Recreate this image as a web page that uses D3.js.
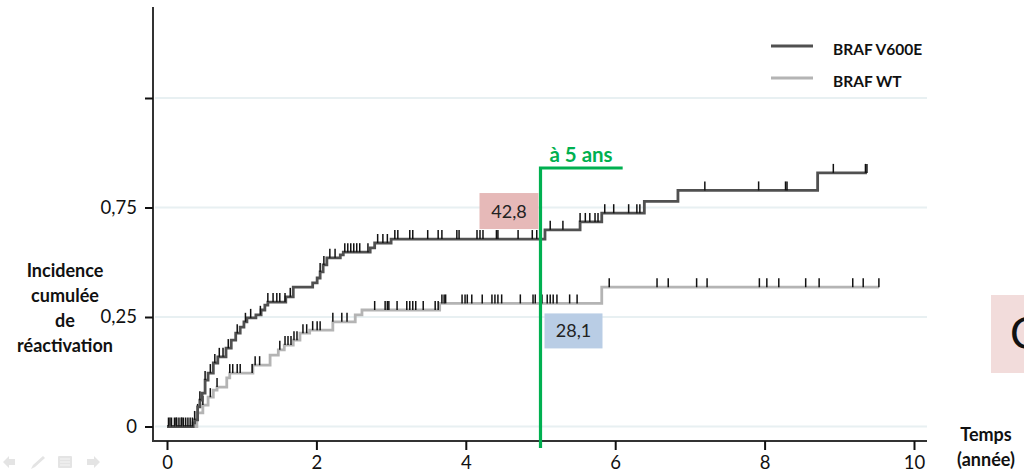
<!DOCTYPE html>
<html>
<head>
<meta charset="utf-8">
<script src="https://cdn.jsdelivr.net/npm/d3@7"></script>
<style>
  html, body { margin: 0; padding: 0; background: #fff; }
  svg { display: block; font-family: Lato, "Open Sans", sans-serif; }
</style>
</head>
<body>
<svg id="chart" width="1024" height="475"></svg>
<script>
// Cumulative incidence of reactivation: step times (years) and value after each step
const v600eTimes  = [0.35, 0.37, 0.41, 0.44, 0.47, 0.51, 0.55, 0.62, 0.68, 0.79, 0.86, 0.92, 0.98, 1.03, 1.07, 1.19, 1.26, 1.31, 1.35, 1.59, 1.69, 1.95, 2.01, 2.05, 2.09, 2.14, 2.32, 2.36, 2.72, 2.78, 3.00, 5.06, 5.53, 5.82, 6.39, 6.84, 8.71];
const v600eValues = [0.008, 0.015, 0.045, 0.060, 0.076, 0.106, 0.122, 0.145, 0.159, 0.179, 0.197, 0.213, 0.227, 0.239, 0.248, 0.255, 0.266, 0.277, 0.284, 0.296, 0.318, 0.328, 0.339, 0.353, 0.369, 0.385, 0.392, 0.398, 0.408, 0.419, 0.428, 0.449, 0.467, 0.487, 0.514, 0.539, 0.579];
const v600eEnd = 9.37;

const wtTimes  = [0.40, 0.48, 0.55, 0.62, 0.67, 0.80, 0.84, 1.15, 1.38, 1.49, 1.57, 1.69, 1.78, 1.91, 2.22, 2.52, 2.61, 3.65, 5.82];
const wtValues = [0.031, 0.049, 0.067, 0.083, 0.090, 0.111, 0.122, 0.140, 0.163, 0.175, 0.186, 0.197, 0.213, 0.220, 0.239, 0.255, 0.266, 0.281, 0.318];
const wtEnd = 9.53;

// Censoring times (years)
const v600eCensored = [0.02, 0.06, 0.10, 0.13, 0.16, 0.19, 0.22, 0.25, 0.28, 0.31, 0.34, 0.37, 0.44, 0.51, 0.58, 0.64, 0.70, 0.75, 0.82, 0.94, 1.05, 1.12, 1.25, 1.35, 1.42, 1.47, 1.51, 1.58, 1.65, 2.05, 2.10, 2.18, 2.25, 2.38, 2.42, 2.46, 2.50, 2.54, 2.58, 2.69, 2.82, 2.89, 2.95, 3.05, 3.09, 3.25, 3.29, 3.49, 3.63, 3.68, 3.88, 3.91, 4.15, 4.19, 4.23, 4.41, 4.43, 4.70, 4.89, 4.95, 5.13, 5.30, 5.53, 5.60, 5.66, 5.73, 5.77, 5.86, 5.98, 6.18, 6.29, 6.33, 7.20, 7.92, 8.28, 8.30, 8.92, 9.35, 9.37];
const wtCensored = [0.04, 0.12, 0.20, 0.41, 0.48, 0.58, 0.67, 0.84, 0.88, 0.94, 0.98, 1.14, 1.18, 1.24, 1.51, 1.58, 1.62, 1.66, 1.70, 1.74, 1.82, 1.87, 1.95, 2.01, 2.05, 2.22, 2.34, 2.41, 2.78, 2.92, 2.95, 2.97, 3.08, 3.21, 3.25, 3.29, 3.33, 3.43, 3.59, 3.63, 3.68, 3.71, 3.73, 3.95, 3.99, 4.02, 4.08, 4.22, 4.35, 4.39, 4.43, 4.48, 4.73, 4.90, 4.93, 5.02, 5.09, 5.13, 5.17, 5.22, 5.39, 5.49, 5.92, 6.56, 6.71, 7.09, 7.23, 7.93, 8.03, 8.19, 8.55, 8.73, 9.18, 9.32, 9.53];

const xTicks = [0, 2, 4, 6, 8, 10];
const yTicks = [0, 0.25, 0.5, 0.75];
const yTickLabels = ["0", "0,25", "0,75", ""];
const seriesNames = ["BRAF V600E", "BRAF WT"];
const seriesColors = ["#505050", "#b4b4b4"];
const milestoneYear = 5;
const milestoneText = "à 5 ans";
const milestonePercents = [42.8, 28.1];
const yTitle = ["Incidence", "cumulée", "de", "réactivation"];
const xTitle = ["Temps", "(année)"];

const svg = d3.select("#chart");

const x = d3.scaleLinear().domain([0, 10]).range([167, 914]);
const y = d3.scaleLinear().domain([0, 0.75]).range([426.5, 98]);

const axisX0 = 153, axisY0 = 441;

// gridlines
svg.append("g").selectAll("line").data(yTicks).join("line")
  .attr("x1", axisX0 + 2).attr("x2", 927)
  .attr("y1", d => y(d)).attr("y2", d => y(d))
  .attr("stroke", "#e8f0f2").attr("stroke-width", 2);

// axis lines
svg.append("line").attr("x1", axisX0).attr("x2", axisX0).attr("y1", 7).attr("y2", axisY0)
  .attr("stroke", "#333").attr("stroke-width", 2);
svg.append("line").attr("x1", axisX0 - 1).attr("x2", 927).attr("y1", axisY0).attr("y2", axisY0)
  .attr("stroke", "#333").attr("stroke-width", 2);

const yAxis = svg.append("g").attr("transform", `translate(${axisX0},0)`)
  .call(d3.axisLeft(y).tickValues(yTicks).tickFormat((d, i) => yTickLabels[i]).tickSize(8).tickPadding(8));
yAxis.select(".domain").remove();
yAxis.selectAll(".tick line").attr("stroke", "#111").attr("stroke-width", 2);
yAxis.selectAll(".tick text").attr("font-size", 18.5).attr("fill", "#111").attr("font-family", "Lato, sans-serif");

const xAxis = svg.append("g").attr("transform", `translate(0,${axisY0})`)
  .call(d3.axisBottom(x).tickValues(xTicks).tickFormat(d3.format("d")).tickSize(9).tickPadding(6));
xAxis.select(".domain").remove();
xAxis.selectAll(".tick line").attr("stroke", "#111").attr("stroke-width", 2);
xAxis.selectAll(".tick text").attr("font-size", 18.5).attr("fill", "#111").attr("font-family", "Lato, sans-serif");

// curves
function stepPoints(times, values, end) {
  const pts = [[0, 0]];
  times.forEach((t, i) => pts.push([t, values[i]]));
  pts.push([end, values[values.length - 1]]);
  return pts;
}
function valueAt(times, values, t) {
  let v = 0;
  for (let i = 0; i < times.length; i++) if (times[i] <= t) v = values[i];
  return v;
}
const line = d3.line().x(d => x(d[0])).y(d => y(d[1])).curve(d3.curveStepAfter);

const series = [
  { times: wtTimes, values: wtValues, end: wtEnd, censored: wtCensored, color: seriesColors[1] },
  { times: v600eTimes, values: v600eValues, end: v600eEnd, censored: v600eCensored, color: seriesColors[0] }
];

series.forEach(s => {
  svg.append("path").datum(stepPoints(s.times, s.values, s.end))
    .attr("d", line).attr("fill", "none")
    .attr("stroke", s.color).attr("stroke-width", 2.8).attr("stroke-linejoin", "miter");
  svg.append("g").selectAll("line").data(s.censored).join("line")
    .attr("x1", d => x(d)).attr("x2", d => x(d))
    .attr("y1", d => y(valueAt(s.times, s.values, d)))
    .attr("y2", d => y(valueAt(s.times, s.values, d)) - 9)
    .attr("stroke", "#111").attr("stroke-width", 1.5);
});

// 5-year milestone
const green = "#00b050";
const xm = x(milestoneYear);
const mTop = 168;
const mRight = x(6.1);
svg.append("path")
  .attr("d", `M${xm},448 L${xm},${mTop} L${mRight},${mTop}`)
  .attr("fill", "none").attr("stroke", green).attr("stroke-width", 3.2);
svg.append("text").attr("x", 581).attr("y", 162)
  .attr("text-anchor", "middle").attr("font-size", 20.5).attr("font-weight", 700)
  .attr("fill", green).text(milestoneText);

const fmt = v => d3.format(".1f")(v).replace(".", ",");
const v5a = valueAt(v600eTimes, v600eValues, milestoneYear);
const v5b = valueAt(wtTimes, wtValues, milestoneYear);

// V600E value box (left of the milestone line, above the curve)
const boxA = { x: xm - 61, y: y(v5a) - 46, w: 59, h: 36 };
svg.append("rect").attr("x", boxA.x).attr("y", boxA.y).attr("width", boxA.w).attr("height", boxA.h).attr("fill", "#e6b9b8");
svg.append("text").attr("x", boxA.x + boxA.w / 2).attr("y", boxA.y + boxA.h / 2 + 6.5)
  .attr("text-anchor", "middle").attr("font-size", 18).attr("fill", "#222").text(fmt(milestonePercents[0]));

// WT value box (right of the milestone line, below the curve)
const boxB = { x: xm + 4, y: y(v5b) + 10, w: 58, h: 35 };
svg.append("rect").attr("x", boxB.x).attr("y", boxB.y).attr("width", boxB.w).attr("height", boxB.h).attr("fill", "#b9cde5");
svg.append("text").attr("x", boxB.x + boxB.w / 2).attr("y", boxB.y + boxB.h / 2 + 6.5)
  .attr("text-anchor", "middle").attr("font-size", 18).attr("fill", "#222").text(fmt(milestonePercents[1]));

// legend
const legend = svg.append("g");
seriesNames.forEach((name, i) => {
  const ly = 46 + i * 32;
  legend.append("line").attr("x1", 771).attr("x2", 813).attr("y1", ly).attr("y2", ly)
    .attr("stroke", seriesColors[i]).attr("stroke-width", 2.8);
  legend.append("text").attr("x", 833).attr("y", ly + 9)
    .attr("font-size", 15.5).attr("font-weight", 700).attr("fill", "#111").text(name);
});

// axis titles
svg.append("g").selectAll("text").data(yTitle).join("text")
  .attr("x", 65).attr("y", (d, i) => 277 + i * 25)
  .attr("text-anchor", "middle").attr("font-size", 18).attr("font-weight", 700).attr("fill", "#111")
  .text(d => d);
svg.append("g").selectAll("text").data(xTitle).join("text")
  .attr("x", 986).attr("y", (d, i) => 441 + i * 25)
  .attr("text-anchor", "middle").attr("font-size", 18).attr("font-weight", 700).attr("fill", "#111")
  .text(d => d);

// neighbouring panel at the right edge
svg.append("rect").attr("x", 991).attr("y", 295).attr("width", 40).attr("height", 78).attr("fill", "#f2dcdb");
svg.append("text").attr("x", 1010).attr("y", 349).attr("font-size", 44).attr("fill", "#111").text("C");

// slide navigation icons
const nav = svg.append("g").attr("fill", "#e4e4e4").attr("stroke", "none");
nav.append("path").attr("d", "M3,462 L9,456 L9,459 L15,459 L15,465 L9,465 L9,468 Z");
nav.append("path").attr("d", "M31,469 L33,465 L43,456 L45,458 L35,467 Z");
nav.append("rect").attr("x", 58).attr("y", 456).attr("width", 14).attr("height", 12).attr("rx", 1);
nav.append("path").attr("d", "M100,462 L94,456 L94,459 L87,459 L87,465 L94,465 L94,468 Z");
svg.append("g").attr("stroke", "#f6f6f6").attr("stroke-width", 1)
  .selectAll("line").data([459, 462, 465]).join("line")
  .attr("x1", 60).attr("x2", 70).attr("y1", d => d).attr("y2", d => d);
</script>
</body>
</html>
